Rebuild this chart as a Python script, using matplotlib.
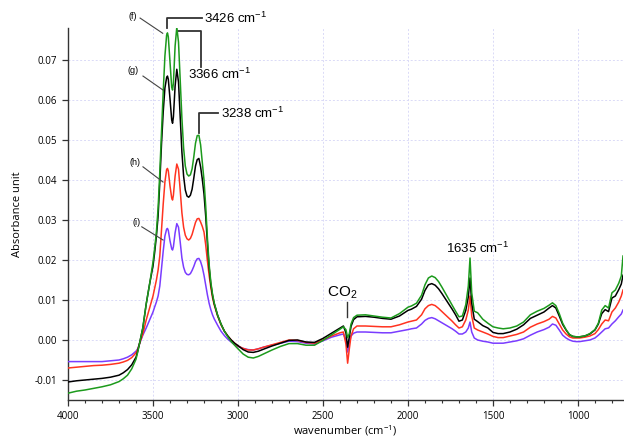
import matplotlib
matplotlib.use("Agg")
import matplotlib.pyplot as plt
from matplotlib.ticker import MultipleLocator

plt.rcParams.update({
    "font.family": ["Open Sans", "DejaVu Sans"],
    "mathtext.default": "regular",
})

# shared wavenumber grid (cm-1), split in segments
WN = ([4000, 3950, 3900, 3850, 3800, 3750, 3700, 3675, 3650, 3625, 3600, 3590, 3580, 3560]
      + [3540, 3520, 3500, 3490, 3480, 3470, 3460, 3450, 3440, 3430, 3420, 3415, 3410, 3400,
         3390, 3385, 3380, 3370, 3360, 3350, 3340, 3330, 3320, 3310, 3300, 3290, 3280, 3270,
         3260, 3250, 3240, 3230, 3220, 3210, 3200, 3190, 3180, 3170, 3160, 3150, 3140, 3120,
         3100, 3080, 3060, 3040, 3020, 3000]
      + [2970, 2940, 2910, 2880, 2850, 2800, 2750, 2700, 2650, 2600, 2550, 2500, 2450, 2400,
         2380, 2365, 2355, 2345, 2335, 2320, 2300, 2250, 2200, 2150, 2100, 2050, 2000]
      + [1980, 1950, 1920, 1900, 1880, 1860, 1840, 1820, 1800, 1780, 1760, 1740, 1720, 1700,
         1680, 1660, 1645, 1635, 1625, 1610, 1590, 1560, 1530, 1500, 1470, 1440, 1400, 1360,
         1320, 1280, 1240, 1200]
      + [1170, 1150, 1130, 1110, 1090, 1070, 1050, 1030, 1010, 990, 960, 930, 900, 880, 860,
         840, 820, 800, 780, 760, 745, 735])

# (f) green
ABS_F = ([-0.0133, -0.0128, -0.0125, -0.0121, -0.0117, -0.0112, -0.0104, -0.0097, -0.0088,
          -0.0072, -0.0048, -0.0030, -0.0010, 0.0030]
         + [0.0090, 0.0140, 0.0195, 0.0230, 0.0270, 0.0330, 0.0420, 0.0520, 0.0620, 0.0710,
            0.0762, 0.0768, 0.0758, 0.0695, 0.0632, 0.0625, 0.0642, 0.0735, 0.0782, 0.0745,
            0.0650, 0.0555, 0.0480, 0.0435, 0.0415, 0.0410, 0.0413, 0.0428, 0.0458, 0.0492,
            0.0511, 0.0512, 0.0488, 0.0445, 0.0400, 0.0335, 0.0255, 0.0190, 0.0145, 0.0115,
            0.0093, 0.0062, 0.0040, 0.0022, 0.0008, -0.0004, -0.0013, -0.0022]
         + [-0.0035, -0.0043, -0.0045, -0.0041, -0.0035, -0.0025, -0.0016, -0.0009, -0.0009,
            -0.0013, -0.0013, -0.0001, 0.0013, 0.0027, 0.0033, 0.0026, 0.0006, 0.0016, 0.0040,
            0.0056, 0.0062, 0.0063, 0.0060, 0.0057, 0.0055, 0.0066, 0.0082]
         + [0.0085, 0.0092, 0.0112, 0.0138, 0.0155, 0.0160, 0.0156, 0.0146, 0.0132, 0.0117,
            0.0102, 0.0087, 0.0072, 0.0058, 0.0060, 0.0088, 0.0135, 0.0205, 0.0118, 0.0072,
            0.0068, 0.0052, 0.0042, 0.0033, 0.0030, 0.0028, 0.0030, 0.0035, 0.0045, 0.0063,
            0.0072, 0.0079]
         + [0.0087, 0.0093, 0.0086, 0.0066, 0.0042, 0.0026, 0.0014, 0.0009, 0.0008, 0.0008,
            0.0010, 0.0016, 0.0026, 0.0042, 0.0075, 0.0086, 0.0080, 0.0118, 0.0125, 0.0142,
            0.0160, 0.0210])

# (g) black
ABS_G = ([-0.0105, -0.0102, -0.0100, -0.0098, -0.0096, -0.0093, -0.0088, -0.0082, -0.0074,
          -0.0062, -0.0043, -0.0028, -0.0010, 0.0030]
         + [0.0090, 0.0140, 0.0185, 0.0220, 0.0260, 0.0310, 0.0395, 0.0490, 0.0570, 0.0630,
            0.0656, 0.0660, 0.0652, 0.0603, 0.0550, 0.0542, 0.0558, 0.0635, 0.0677, 0.0645,
            0.0560, 0.0470, 0.0410, 0.0375, 0.0360, 0.0357, 0.0362, 0.0377, 0.0405, 0.0435,
            0.0451, 0.0454, 0.0433, 0.0402, 0.0365, 0.0310, 0.0242, 0.0182, 0.0140, 0.0112,
            0.0091, 0.0062, 0.0040, 0.0022, 0.0010, 0.0000, -0.0008, -0.0014]
         + [-0.0024, -0.0030, -0.0031, -0.0028, -0.0023, -0.0015, -0.0008, -0.0001, 0.0000,
            -0.0005, -0.0006, 0.0004, 0.0017, 0.0030, 0.0035, 0.0018, -0.0018, 0.0008, 0.0034,
            0.0051, 0.0058, 0.0059, 0.0057, 0.0054, 0.0052, 0.0060, 0.0074]
         + [0.0077, 0.0084, 0.0102, 0.0124, 0.0138, 0.0141, 0.0137, 0.0128, 0.0116, 0.0103,
            0.0090, 0.0077, 0.0063, 0.0047, 0.0050, 0.0074, 0.0108, 0.0155, 0.0092, 0.0052,
            0.0046, 0.0036, 0.0030, 0.0019, 0.0016, 0.0016, 0.0020, 0.0027, 0.0038, 0.0054,
            0.0062, 0.0070]
         + [0.0080, 0.0086, 0.0080, 0.0060, 0.0039, 0.0025, 0.0013, 0.0009, 0.0008, 0.0008,
            0.0010, 0.0015, 0.0025, 0.0040, 0.0066, 0.0076, 0.0071, 0.0105, 0.0110, 0.0126,
            0.0140, 0.0162])

# (h) red
ABS_H = ([-0.0070, -0.0068, -0.0066, -0.0064, -0.0063, -0.0061, -0.0058, -0.0055, -0.0051,
          -0.0044, -0.0032, -0.0024, -0.0010, 0.0015]
         + [0.0050, 0.0080, 0.0110, 0.0130, 0.0150, 0.0175, 0.0210, 0.0275, 0.0340, 0.0395,
            0.0426, 0.0429, 0.0423, 0.0385, 0.0355, 0.0350, 0.0362, 0.0410, 0.0440, 0.0427,
            0.0375, 0.0318, 0.0282, 0.0262, 0.0253, 0.0250, 0.0254, 0.0264, 0.0279, 0.0294,
            0.0303, 0.0304, 0.0295, 0.0284, 0.0270, 0.0238, 0.0198, 0.0162, 0.0132, 0.0106,
            0.0088, 0.0060, 0.0038, 0.0022, 0.0010, 0.0000, -0.0008, -0.0015]
         + [-0.0021, -0.0025, -0.0025, -0.0022, -0.0018, -0.0012, -0.0006, 0.0000, -0.0001,
            -0.0006, -0.0008, 0.0000, 0.0010, 0.0018, 0.0020, -0.0010, -0.0058, -0.0022, 0.0010,
            0.0028, 0.0035, 0.0035, 0.0034, 0.0033, 0.0033, 0.0038, 0.0045]
         + [0.0047, 0.0050, 0.0063, 0.0078, 0.0086, 0.0089, 0.0086, 0.0079, 0.0071, 0.0063,
            0.0055, 0.0047, 0.0038, 0.0030, 0.0033, 0.0050, 0.0075, 0.0110, 0.0060, 0.0030,
            0.0025, 0.0020, 0.0015, 0.0009, 0.0006, 0.0006, 0.0010, 0.0014, 0.0020, 0.0032,
            0.0040, 0.0046]
         + [0.0052, 0.0059, 0.0055, 0.0040, 0.0025, 0.0015, 0.0008, 0.0005, 0.0005, 0.0005,
            0.0007, 0.0010, 0.0016, 0.0026, 0.0040, 0.0050, 0.0048, 0.0070, 0.0080, 0.0095,
            0.0110, 0.0125])

# (i) purple
ABS_I = ([-0.0054, -0.0054, -0.0054, -0.0054, -0.0054, -0.0052, -0.0050, -0.0047, -0.0043,
          -0.0037, -0.0028, -0.0022, -0.0010, 0.0012]
         + [0.0030, 0.0050, 0.0070, 0.0083, 0.0095, 0.0110, 0.0135, 0.0178, 0.0222, 0.0260,
            0.0277, 0.0279, 0.0274, 0.0248, 0.0228, 0.0225, 0.0233, 0.0268, 0.0291, 0.0282,
            0.0245, 0.0205, 0.0182, 0.0169, 0.0164, 0.0163, 0.0166, 0.0174, 0.0184, 0.0196,
            0.0203, 0.0204, 0.0196, 0.0182, 0.0162, 0.0138, 0.0113, 0.0092, 0.0076, 0.0063,
            0.0053, 0.0037, 0.0022, 0.0011, 0.0002, -0.0005, -0.0011, -0.0016]
         + [-0.0021, -0.0024, -0.0025, -0.0022, -0.0018, -0.0013, -0.0008, -0.0003, -0.0004,
            -0.0008, -0.0010, -0.0002, 0.0007, 0.0013, 0.0015, 0.0000, -0.0030, -0.0006, 0.0010,
            0.0017, 0.0020, 0.0020, 0.0019, 0.0018, 0.0018, 0.0022, 0.0026]
         + [0.0028, 0.0030, 0.0040, 0.0049, 0.0054, 0.0056, 0.0053, 0.0048, 0.0043, 0.0038,
            0.0033, 0.0028, 0.0022, 0.0015, 0.0015, 0.0020, 0.0030, 0.0045, 0.0020, 0.0005,
            0.0000, -0.0003, -0.0005, -0.0008, -0.0008, -0.0008, -0.0005, -0.0002, 0.0003,
            0.0012, 0.0020, 0.0026]
         + [0.0032, 0.0040, 0.0037, 0.0025, 0.0012, 0.0005, 0.0000, -0.0003, -0.0004, -0.0004,
            -0.0002, 0.0000, 0.0005, 0.0012, 0.0020, 0.0028, 0.0030, 0.0040, 0.0048, 0.0058,
            0.0065, 0.0075])

SERIES = [("(i)", ABS_I, "#7a3cff"), ("(h)", ABS_H, "#ff3320"),
          ("(g)", ABS_G, "#000000"), ("(f)", ABS_F, "#1c9a1c")]

for _, ys, _ in SERIES:
    assert len(ys) == len(WN)

fig = plt.figure(figsize=(6.24, 4.37), dpi=100)
ax = fig.add_axes([0.109, 0.0847, 0.8894, 0.852])

for name, ys, col in SERIES:
    ax.plot(WN, ys, color=col, lw=1.1, zorder=3)

ax.set_xlim(4000, 735)
ax.set_ylim(-0.015, 0.0781)
ax.xaxis.set_major_locator(MultipleLocator(500))
ax.xaxis.set_minor_locator(MultipleLocator(100))
ax.yaxis.set_major_locator(MultipleLocator(0.01))
ax.yaxis.set_major_formatter(matplotlib.ticker.FormatStrFormatter("%.2f"))
ax.grid(True, which="major", color="#dadaf7", lw=0.7, ls=(0, (2, 2)), zorder=0)
for s in ["top", "right"]:
    ax.spines[s].set_visible(False)
for s in ["left", "bottom"]:
    ax.spines[s].set_color("#333333")
    ax.spines[s].set_linewidth(1.0)
ax.tick_params(which="major", direction="out", length=4, width=0.9, color="#333333",
               labelsize=7, pad=4)
ax.tick_params(which="minor", direction="out", length=2.5, width=0.8, color="#333333")

ax.set_ylabel("Absorbance unit", fontsize=8, labelpad=8)
ax.set_xlabel("wavenumber (cm$^{-1}$)", fontsize=8, labelpad=1)

# peak labels
ann = dict(family=["Liberation Sans", "DejaVu Sans"], fontsize=9.5, va="center", ha="left")
lk = dict(color="#333333", lw=1.3, clip_on=False)
ax.plot([3419, 3419, 3214], [0.0779, 0.0804, 0.0804], **lk)
ax.text(3200, 0.0804, "3426 cm$^{-1}$", **ann)
ax.plot([3361, 3218, 3218], [0.0773, 0.0773, 0.0683], **lk)
ax.text(3292, 0.0663, "3366 cm$^{-1}$", **ann)
ax.plot([3229, 3229, 3116], [0.0517, 0.0567, 0.0567], **lk)
ax.text(3102, 0.0567, "3238 cm$^{-1}$", **ann)
ax.text(1776, 0.0228, "1635 cm$^{-1}$", **ann)
ax.text(2475, 0.0118, "CO$_2$", family=["Liberation Sans", "DejaVu Sans"], fontsize=11,
        va="center", ha="left")
ax.plot([2360, 2360], [0.0096, 0.0058], color="#333333", lw=1.0)

# curve tags
tags = [("(f)", 3618, 0.0810, (3576, 3443), (0.0805, 0.0767)),
        ("(g)", 3618, 0.0673, (3559, 3441), (0.0660, 0.0625)),
        ("(h)", 3606, 0.0443, (3559, 3441), (0.0433, 0.0395)),
        ("(i)", 3594, 0.0293, (3566, 3441), (0.0283, 0.0250))]
for t, tx, ty, lx, ly in tags:
    ax.text(tx, ty, t, fontsize=6.5, ha="center", va="center",
            family=["Liberation Sans", "DejaVu Sans"])
    ax.plot(lx, ly, color="#444444", lw=0.8, clip_on=False, zorder=4)

fig.savefig("out.png", dpi=100)
